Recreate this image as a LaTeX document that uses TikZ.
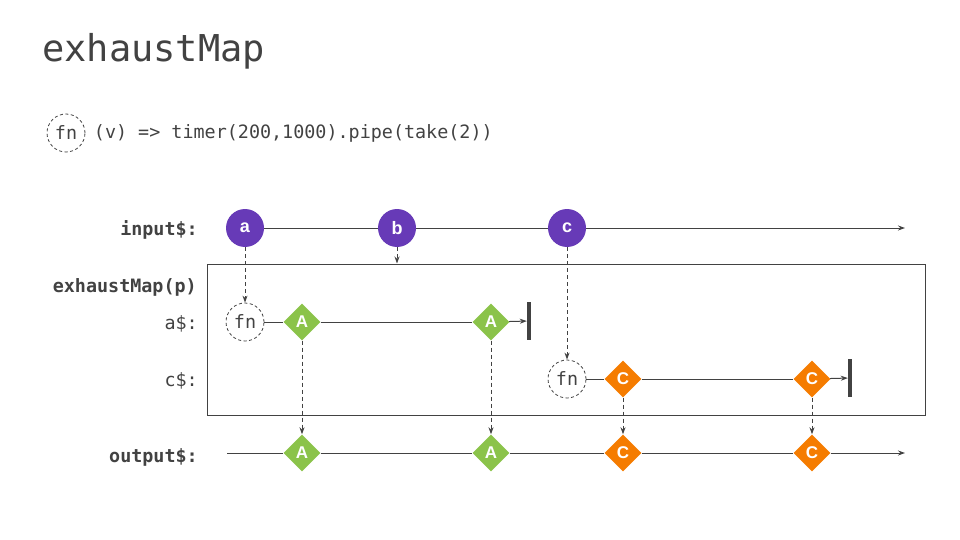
\documentclass[tikz,border=0pt]{standalone}
\usepackage{fontspec}
\setmainfont{DejaVu Sans Mono}
\setsansfont{Liberation Sans}
\usetikzlibrary{shapes.geometric, positioning, arrows.meta}
\definecolor{ink}{HTML}{424242}
\definecolor{marblePurple}{HTML}{673AB7}
\definecolor{itemGreen}{HTML}{8BC34A}
\definecolor{itemOrange}{HTML}{F57C00}
\newcommand{\fsize}[1]{\fontsize{#1}{#1}\selectfont}

\begin{document}
\begin{tikzpicture}[x=1pt, y=-1pt,
    marble/.style={circle, fill=marblePurple, minimum size=38pt, inner sep=0pt, text=white, font=\sffamily\bfseries\fsize{18}},
    item/.style={diamond, fill=#1, minimum size=37pt, inner sep=0pt, text=white, font=\sffamily\bfseries\fsize{17}},
    fnbox/.style={circle, draw=ink, line width=0.8pt, dash pattern=on 3pt off 2.5pt, minimum size=38pt, inner sep=0pt, text=ink, font=\fsize{18.4}},
    endbar/.style={fill=ink, minimum width=4pt, minimum height=38pt, inner sep=0pt},
    lbl/.style={anchor=east, inner sep=0pt, text height=14pt, text depth=0pt, text=ink, font=\fsize{18.4}},
    line/.style={draw=ink, line width=1pt},
    arr/.style={line, -{Stealth[length=7pt, width=5pt]}},
    dasharr/.style={arr, line width=0.9pt, dash pattern=on 4pt off 3pt},
]
\useasboundingbox (0,0) rectangle (960,540);

% --- Title and legend ---
\node[anchor=base west, inner sep=0pt, text=ink, font=\fsize{37}] (title) at (42,62) {exhaustMap};
\node[fnbox] (fnKey) at (66,133) {fn};
\node[right=5pt of fnKey, text=ink, font=\fsize{18.4}] (code) {(v) => timer(200,1000).pipe(take(2))};

% --- Input stream ---
\node[lbl, font=\bfseries\fsize{18.4}] (inLbl) at (198,228) {input\$:};
\node[marble] (a) at (245,228) {a};
\node[marble] (b) at (397,228) {b};
\node[marble] (c) at (567,228) {c};
\coordinate (inEnd) at (905,228);

% --- Operator box ---
\node[draw=ink, line width=1pt, minimum width=718pt, minimum height=151pt, inner sep=0pt] (mapbox) at (566,339.5) {};
\node[lbl, font=\bfseries\fsize{18.4}] (mapLbl) at (197,285) {exhaustMap(p)};
\node[lbl] (aLbl) at (198,322) {a\$:};
\node[lbl] (cLbl) at (198,379) {c\$:};

% --- Inner stream a$ ---
\node[fnbox] (fnA) at (245,322) {fn};
\node[item=itemGreen] (A1) at (302,322) {A};
\node[item=itemGreen] (A2) at (491,322) {A};
\node[endbar] (barA) at (529,321) {};

% --- Inner stream c$ ---
\node[fnbox] (fnC) at (567,379) {fn};
\node[item=itemOrange] (C1) at (623,379) {C};
\node[item=itemOrange] (C2) at (812,379) {C};
\node[endbar] (barC) at (850,378) {};

% --- Output stream ---
\node[lbl, font=\bfseries\fsize{18.4}] (outLbl) at (198,455) {output\$:};
\coordinate (outStart) at (227,453);
\node[item=itemGreen] (oA1) at (302,453) {A};
\node[item=itemGreen] (oA2) at (491,453) {A};
\node[item=itemOrange] (oC1) at (623,453) {C};
\node[item=itemOrange] (oC2) at (812,453) {C};
\coordinate (outEnd) at (905,453);

% === Timelines ===
\draw[line] (a) -- (b);
\draw[line] (b) -- (c);
\draw[arr] (c) -- (inEnd);

\draw[line] (fnA) -- (A1);
\draw[line] (A1) -- (A2);
\draw[arr] (A2) -- (barA);

\draw[line] (fnC) -- (C1);
\draw[line] (C1) -- (C2);
\draw[arr] (C2) -- (barC);

\draw[line] (outStart) -- (oA1);
\draw[line] (oA1) -- (oA2);
\draw[line] (oA2) -- (oC1);
\draw[line] (oC1) -- (oC2);
\draw[arr] (oC2) -- (outEnd);

% === Dashed arrows ===
\draw[dasharr] (a) -- (fnA);
\draw[dasharr] (b) -- (b |- mapbox.north);
\draw[dasharr] (c) -- (fnC);
\draw[dasharr] (A1) -- (oA1);
\draw[dasharr] (A2) -- (oA2);
\draw[dasharr] (C1) -- (oC1);
\draw[dasharr] (C2) -- (oC2);

\end{tikzpicture}
\end{document}
